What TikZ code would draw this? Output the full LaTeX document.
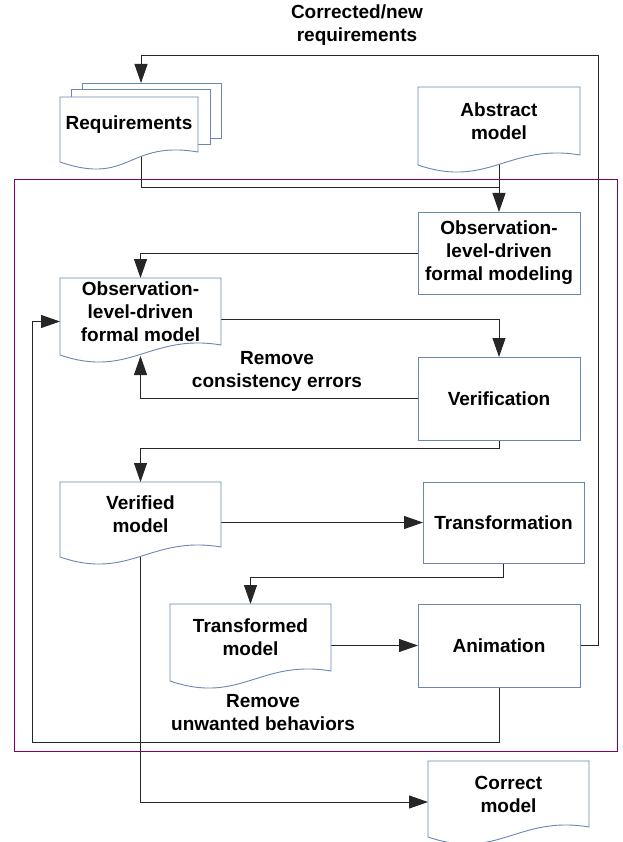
\documentclass[tikz,border=0pt]{standalone}
\usepackage{fontspec}
\setmainfont{Liberation Sans}
\usepackage{xcolor}
\usepackage{tikz}
\usetikzlibrary{positioning,calc,backgrounds,arrows.meta}

\definecolor{boxblue}{RGB}{104,136,178}
\definecolor{framepurple}{RGB}{128,0,112}

\newcommand{\docframe}[1]{%
  \filldraw[docline] (#1.south east) -- (#1.north east) -- (#1.north west)
    -- ($(#1.south west)+(0,10)$)
    .. controls ($(#1.south west)+(70,34)$) and ($(#1.south east)+(-71,-12)$) .. (#1.south east) -- cycle;}

\begin{document}
\begin{tikzpicture}[x=1pt,y=-1pt,
    txt/.style={font=\fontsize{19}{23}\selectfont\bfseries, align=center},
    box/.style={txt, draw=boxblue, line width=0.9pt, outer sep=0pt, minimum width=162pt, minimum height=83pt},
    doc/.style={txt, outer sep=0pt, inner sep=0pt, minimum width=161pt, minimum height=66pt},
    docline/.style={draw=boxblue, fill=white, line width=0.9pt},
    line/.style={draw=black!85, line width=1pt},
    flow/.style={line, -{Triangle[length=19pt,width=13pt]}}]
	\useasboundingbox (0,0) rectangle (622,842);
	
	% rahmen
	\draw[framepurple, line width=0.8pt] (14,179) rectangle (617,751);
	
	% dokumente
	\node[doc, minimum width=138pt, minimum height=55pt] (req) at (129,124.5) {Requirements};
	\node[doc, minimum width=162pt, minimum height=68pt] (abs) at (499,121) {Abstract\\model};
	\node[doc, minimum height=67pt] (ofm) at (140.5,311.5) {Observation-\\level-driven\\formal model};
	\node[doc, minimum height=65pt] (vmod) at (140.5,514.5) {Verified\\model};
	\node[doc, minimum height=67pt] (tmod) at (250.5,637.5) {Transformed\\model};
	\node[doc] (cmod) at (508.5,794) {Correct\\model};
	
	% prozesse
	\node[box, minimum height=82pt] (olm) at (499,253) {Observation-\\level-driven\\formal modeling};
	\node[box] (ver) at (499,398.5) {Verification};
	\node[box, minimum width=161pt, minimum height=81pt] (trans) at (503.5,522.5) {Transformation};
	\node[box] (anim) at (499,645.5) {Animation};
	
	% beschriftungen
	\node[txt] (lblreq) at (357,25) {Corrected/new\\requirements};
	\node[txt] (lblcons) at (277,371) {Remove\\consistency errors};
	\node[txt] (lblunw) at (263,713) {Remove\\unwanted behaviors};
	
	% hilfspunkte
	\coordinate (reqtop) at ($(req.north)+(12,-14)$);
	\coordinate (reqbot) at ($(req.south)+(12,0)$);
	\coordinate (fbk) at (598,56);
	\coordinate (join) at (499,188);
	\coordinate (loopc) at (32,742);
	
	\begin{scope}[on background layer]
		% verbindungen
		\draw[flow] (anim.east) -| (fbk) -| (reqtop);
		\draw[line] (reqbot) |- (join);
		\draw[flow] (abs.south) -- (olm.north);
		\draw[flow] (olm.west) -| (ofm.north);
		\draw[flow] ($(ofm.east)+(0,8)$) -| (ver.north);
		\draw[flow] (ver.west) -| ($(ofm.south)+(0,11)$);
		\draw[flow] (ver.south) -- ++(0,8) -| (vmod.north);
		\draw[flow] (vmod.east |- trans.west) -- (trans.west);
		\draw[flow] (trans.south) -- ++(0,14) -| (tmod.north);
		\draw[flow] (tmod.east |- anim.west) -- (anim.west);
		\draw[flow] (anim.south) |- (loopc) |- ($(ofm.west)+(0,10)$);
		\draw[flow] (vmod.south) |- ($(cmod.west)+(0,8)$);
		
		% stapel hinter den anforderungen
		\draw[docline, fill=none] ($(req.north west)+(22,-8)$) -- ($(req.north west)+(22,-14)$)
			-- ($(req.north east)+(23,-14)$) -- ($(req.south east)+(23,-14)$) -- ($(req.south east)+(12,-14)$);
		\draw[docline, fill=none] ($(req.north west)+(11,0)$) -- ($(req.north west)+(11,-8)$)
			-- ($(req.north east)+(12,-8)$) -- ($(req.south east)+(12,-8)$) -- ($(req.south east)+(0,-8)$);
		
		\foreach \d in {req,abs,ofm,vmod,tmod,cmod} { \docframe{\d} }
	\end{scope}
\end{tikzpicture}
\end{document}
